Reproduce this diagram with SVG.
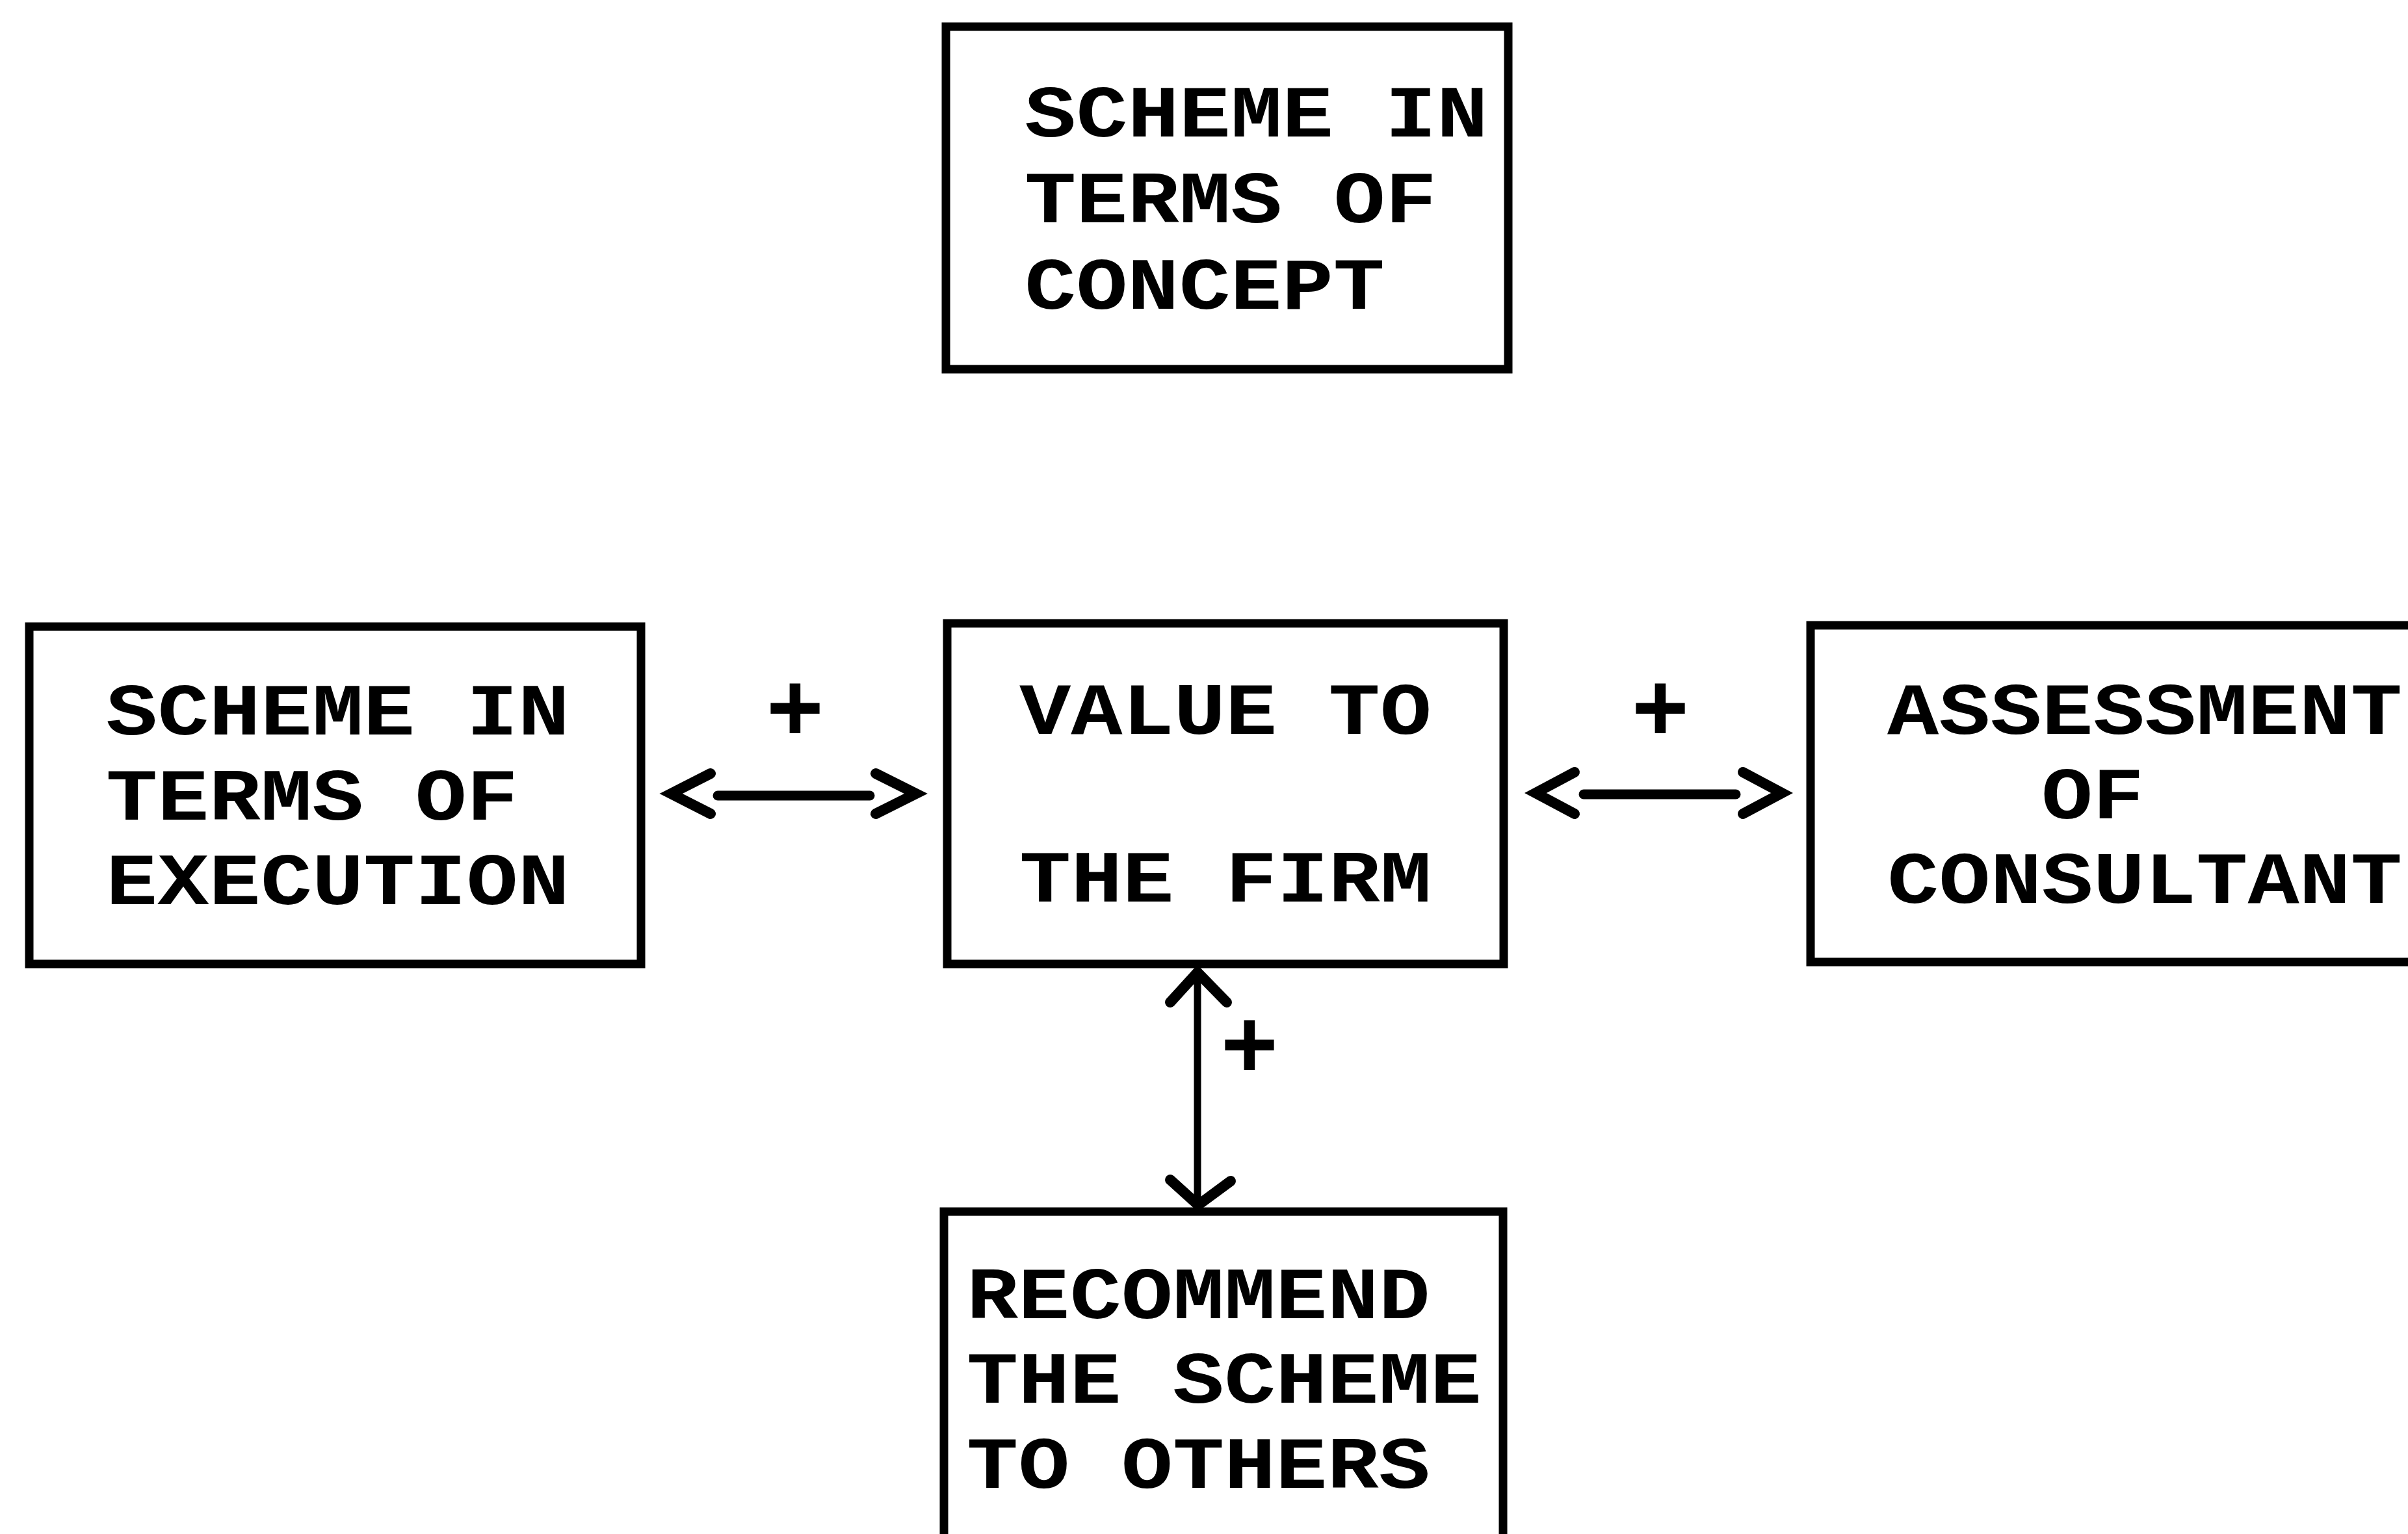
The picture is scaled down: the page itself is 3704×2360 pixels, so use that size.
<svg xmlns="http://www.w3.org/2000/svg" width="3704" height="2360" viewBox="0 0 3704 2360">
<style>
.box{fill:none;stroke:#000;stroke-width:13;stroke-linejoin:miter}
.t{font-family:"Liberation Mono","DejaVu Sans Mono",monospace;font-weight:bold;font-size:113px;fill:#000}
.plus{font-family:"Liberation Mono","DejaVu Sans Mono",monospace;font-weight:bold;font-size:150px;fill:#000;text-anchor:middle}
.ln{fill:none;stroke:#000;stroke-width:15;stroke-linecap:round}
.hd{fill:none;stroke:#000;stroke-width:16;stroke-linecap:round;stroke-linejoin:miter}
.vl{fill:none;stroke:#000;stroke-width:11}
</style>
<rect width="3704" height="2360" fill="#fff"/>
<g id="node-concept">
<rect class="box" x="1455" y="41" width="865" height="527"/>
<text class="t" x="1576" y="210" textLength="713" lengthAdjust="spacingAndGlyphs">SCHEME IN</text>
<text class="t" x="1576" y="342" textLength="634" lengthAdjust="spacingAndGlyphs">TERMS OF</text>
<text class="t" x="1576" y="475" textLength="554" lengthAdjust="spacingAndGlyphs">CONCEPT</text>
</g>
<g id="node-execution">
<rect class="box" x="45" y="964" width="941" height="519"/>
<text class="t" x="163" y="1130" textLength="713" lengthAdjust="spacingAndGlyphs">SCHEME IN</text>
<text class="t" x="163" y="1261" textLength="634" lengthAdjust="spacingAndGlyphs">TERMS OF</text>
<text class="t" x="163" y="1391" textLength="713" lengthAdjust="spacingAndGlyphs">EXECUTION</text>
</g>
<g id="node-value">
<rect class="box" x="1457" y="959" width="856" height="524"/>
<text class="t" x="1568" y="1129" textLength="634" lengthAdjust="spacingAndGlyphs">VALUE TO</text>
<text class="t" x="1568" y="1387" textLength="634" lengthAdjust="spacingAndGlyphs">THE FIRM</text>
</g>
<g id="node-assessment">
<path class="box" d="M3720,962 H2785 V1480 H3720"/>
<text class="t" x="2903" y="1129" textLength="792" lengthAdjust="spacingAndGlyphs">ASSESSMENT</text>
<text class="t" x="3140" y="1259" textLength="158" lengthAdjust="spacingAndGlyphs">OF</text>
<text class="t" x="2903" y="1389" textLength="792" lengthAdjust="spacingAndGlyphs">CONSULTANT</text>
</g>
<g id="node-recommend">
<path class="box" d="M1452,2380 V1864 H2312 V2380"/>
<text class="t" x="1487" y="2028" textLength="713" lengthAdjust="spacingAndGlyphs">RECOMMEND</text>
<text class="t" x="1487" y="2158" textLength="792" lengthAdjust="spacingAndGlyphs">THE SCHEME</text>
<text class="t" x="1487" y="2289" textLength="713" lengthAdjust="spacingAndGlyphs">TO OTHERS</text>
</g>
<g id="connectors">
<g id="conn-execution-value">
<path class="hd" d="M1093,1190 L1032,1221 L1093,1252"/>
<path class="ln" d="M1104,1224 H1338"/>
<path class="hd" d="M1347,1190 L1409,1221 L1347,1252"/>
<text class="plus" x="1223" y="1140">+</text>
</g>
<g id="conn-value-assessment">
<path class="hd" d="M2422,1188 L2362,1220 L2422,1252"/>
<path class="ln" d="M2436,1222 H2670"/>
<path class="hd" d="M2681,1188 L2741,1220 L2681,1252"/>
<text class="plus" x="2554" y="1140">+</text>
</g>
<g id="conn-value-recommend">
<path class="vl" d="M1842,1490 V1858"/>
<path class="hd" d="M1800,1542 L1842,1496 L1887,1542"/>
<path class="hd" d="M1800,1815 L1843,1854 L1893,1817"/>
<text class="plus" x="1922" y="1658">+</text>
</g>
</g>
</svg>
